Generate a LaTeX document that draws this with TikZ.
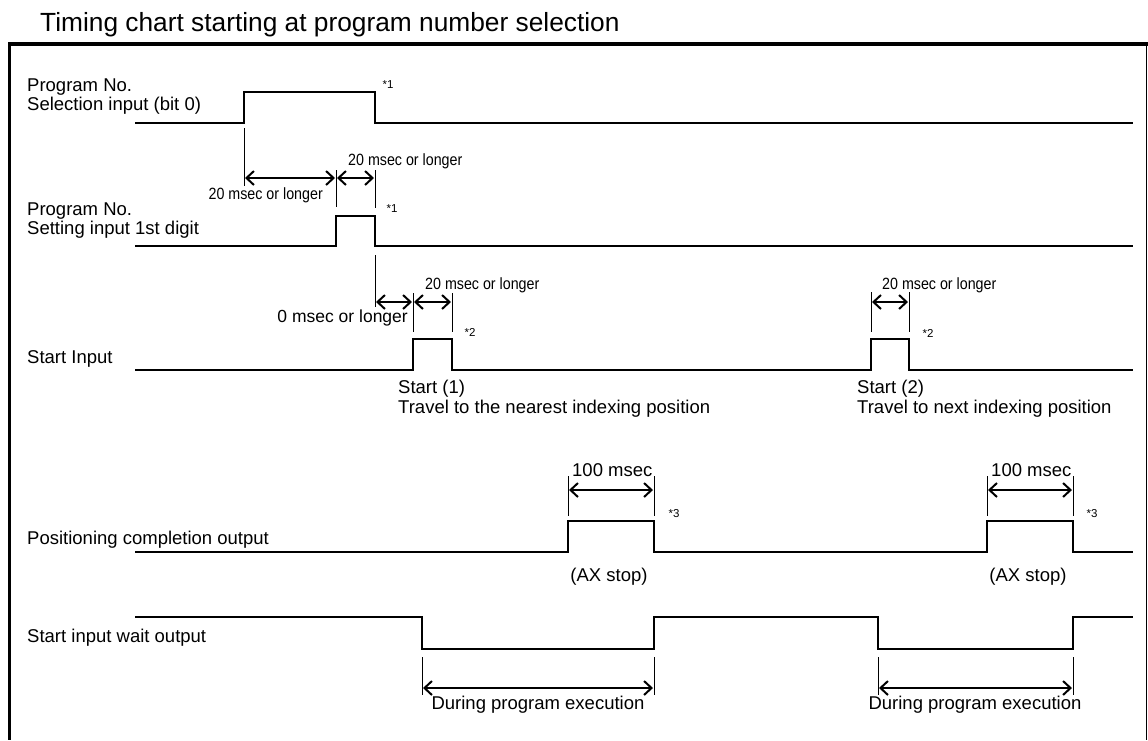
\documentclass[tikz,border=0pt]{standalone}
\usepackage{fontspec}
\setmainfont{Liberation Sans}
\newfontfamily\narrowfont[FakeStretch=0.875]{Liberation Sans}
\usetikzlibrary{arrows.meta}
\begin{document}
\begin{tikzpicture}[x=1pt,y=-1pt,
  sig/.style={line width=2.5pt, line join=miter},
  tick/.style={line width=0.8pt},
  dim/.style={line width=2pt, {Straight Barb[length=7.5pt,width=14pt]}-{Straight Barb[length=7.5pt,width=14pt]}},
  lbl/.style={inner sep=0, anchor=base west, font=\fontsize{18.5}{21}\selectfont},
  plain/.style={inner sep=0, font=\fontsize{18.5}{21}\selectfont},
  small/.style={inner sep=0, font=\narrowfont\fontsize{16.3}{18}\selectfont},
  star/.style={inner sep=0, font=\fontsize{11.5}{12}\selectfont},
]
\useasboundingbox (0,0) rectangle (1148,740);
% title and frame
\node[inner sep=0, anchor=base west, font=\fontsize{26.3}{30}\selectfont] (title) at (40,31) {Timing chart starting at program number selection};
\draw[line width=3.2pt] (8,44) -- (1147.5,44);
\draw[line width=3.2pt] (9.6,44) -- (9.6,740);
\draw[line width=1pt] (1146.5,44) -- (1146.5,740);

% ---- signal 1
\node[lbl] (l1a) at (27,91) {Program No.};
\node[lbl] (l1b) at (27,110) {Selection input (bit 0)};
\draw[sig] (135,123) -- (244,123) -- (244,92) -- (375,92) -- (375,123) -- (1133,123);
\node[star] (s1) at (388,85) {*1};
\coordinate (a1) at (244,128); \coordinate (a1e) at (244,186);
\coordinate (b1) at (336,170); \coordinate (b1e) at (336,207);
\coordinate (c1) at (375,170); \coordinate (c1e) at (375,208);
\draw[tick] (a1) -- (a1e);
\draw[tick] (b1) -- (b1e);
\draw[tick] (c1) -- (c1e);
\draw[dim] (245,178) -- (335,178);
\draw[dim] (337,178) -- (374,178);
\node[small, anchor=east] (d1) at (323,195) {20 msec or longer};
\node[small, anchor=west] (d2) at (348,161) {20 msec or longer};

% ---- signal 2
\node[lbl] (l2a) at (27,215) {Program No.};
\node[lbl] (l2b) at (27,234) {Setting input 1st digit};
\draw[sig] (135,246) -- (336,246) -- (336,216) -- (375,216) -- (375,246) -- (1133,246);
\node[star] (s2) at (392,209) {*1};
\draw[tick] (375,255) -- (375,307);
\draw[tick] (413,293) -- (413,332);
\draw[tick] (452,293) -- (452,332);
\draw[dim] (376,302) -- (412,302);
\draw[dim] (414,302) -- (451,302);
\node[small, anchor=west] (d3) at (425,285) {20 msec or longer};
\node[inner sep=0, anchor=east, font=\fontsize{17.5}{20}\selectfont] (d4) at (408,318) {0 msec or longer};

% ---- signal 3
\node[lbl] (l3) at (27,363) {Start Input};
\draw[sig] (135,370) -- (413,370) -- (413,339) -- (452,339) -- (452,370) -- (871,370) -- (871,339) -- (909,339) -- (909,370) -- (1133,370);
\node[star] (s3) at (470,332) {*2};
\node[star] (s4) at (928,333) {*2};
\draw[tick] (871,292) -- (871,332);
\draw[tick] (909,292) -- (909,332);
\draw[dim] (872,302) -- (908,302);
\node[small, anchor=west] (d5) at (882,285) {20 msec or longer};
\node[lbl] (t1a) at (398,393) {Start (1)};
\node[lbl] (t1b) at (398,413) {Travel to the nearest indexing position};
\node[lbl] (t2a) at (857,393) {Start (2)};
\node[lbl] (t2b) at (857,413) {Travel to next indexing position};

% ---- signal 4
\node[lbl] (l4) at (27,544) {Positioning completion output};
\draw[sig] (135,552) -- (568,552) -- (568,521) -- (654,521) -- (654,552) -- (987,552) -- (987,521) -- (1073,521) -- (1073,552) -- (1133,552);
\draw[tick] (568,476) -- (568,516);
\draw[tick] (654,476) -- (654,516);
\draw[tick] (987,476) -- (987,516);
\draw[tick] (1073,476) -- (1073,516);
\draw[dim] (569,490) -- (653,490);
\draw[dim] (988,490) -- (1072,490);
\node[plain, anchor=west] (m1) at (572,470) {100 msec};
\node[plain, anchor=west] (m2) at (991,470) {100 msec};
\node[star] (s5) at (674,514) {*3};
\node[star] (s6) at (1092,514) {*3};
\node[plain] (ax1) at (609,577) {(AX stop)};
\node[plain] (ax2) at (1028,577) {(AX stop)};

% ---- signal 5
\node[lbl] (l5) at (27,642) {Start input wait output};
\draw[sig] (135,617) -- (422,617) -- (422,649) -- (654,649) -- (654,617) -- (878,617) -- (878,649) -- (1073,649) -- (1073,617) -- (1133,617);
\draw[tick] (422,657) -- (422,695);
\draw[tick] (654,657) -- (654,695);
\draw[tick] (878,657) -- (878,695);
\draw[tick] (1073,657) -- (1073,695);
\draw[dim] (423,688) -- (653,688);
\draw[dim] (879,688) -- (1072,688);
\node[plain] (e1) at (538,705) {During program execution};
\node[plain] (e2) at (975,705) {During program execution};
\end{tikzpicture}
\end{document}
